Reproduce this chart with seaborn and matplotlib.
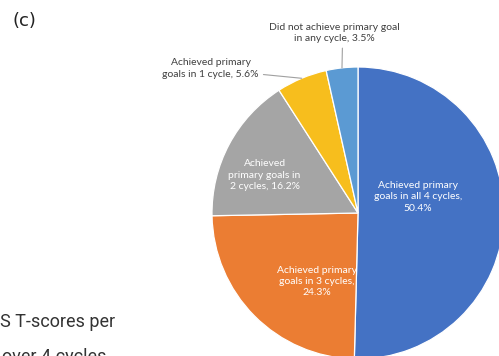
import matplotlib
matplotlib.use("Agg")
import matplotlib.pyplot as plt
import numpy as np
import seaborn as sns

# Share of participants by number of cycles in which the primary goal was achieved
categories = [
    "Achieved primary\ngoals in all 4 cycles,",
    "Achieved primary\ngoals in 3 cycles,",
    "Achieved\nprimary goals in\n2 cycles,",
    "Achieved primary\ngoals in 1 cycle,",
    "Did not achieve primary goal\nin any cycle,",
]
percentages = [50.4, 24.3, 16.2, 5.6, 3.5]
slice_colors = ["#4472C4", "#EB7D33", "#A5A5A5", "#F7BE1D", "#5B9AD3"]
# how the percentage follows each category text
pct_joiner = ["\n", "\n", " ", " ", " "]

sns.set_theme(style="white")
plt.rcParams["font.family"] = ["Lato", "DejaVu Sans"]

W, H = 499, 356
fig = plt.figure(figsize=(W / 100, H / 100), dpi=100)
fig.patch.set_facecolor("white")

# pie placed by pixel centre and radius
cx, cy, r = 358, 213, 146
ax = fig.add_axes([(cx - r) / W, (H - cy - r) / H, 2 * r / W, 2 * r / H])

wedges, _ = ax.pie(
    percentages,
    colors=slice_colors,
    startangle=90,
    counterclock=False,
    radius=1,
    wedgeprops=dict(edgecolor="white", linewidth=0.9),
)
ax.set_xlim(-1, 1)
ax.set_ylim(-1, 1)
ax.set_aspect("equal")
ax.axis("off")
for w in wedges:
    w.set_clip_on(False)

labels = [f"{c}{j}{p:.1f}%" for c, j, p in zip(categories, pct_joiner, percentages)]

# inside labels (white)
inside_pos = [(0.41, 0.11), (-0.28, -0.47), (-0.64, 0.26)]
for lab, (x, y) in zip(labels[:3], inside_pos):
    ax.text(x, y, lab, ha="center", va="center", color="white",
            fontsize=7.5, linespacing=1.3)

# outside labels with leader lines
def edge_point(w):
    ang = np.deg2rad((w.theta1 + w.theta2) / 2)
    return np.cos(ang), np.sin(ang)

out_cfg = [
    (3, (-1.01, 0.99), (1.0, 0.22)),
    (4, (-0.16, 1.23), (0.56, 0.0)),
]
for idx, (tx, ty), rel in out_cfg:
    ax.annotate(
        labels[idx], xy=edge_point(wedges[idx]), xytext=(tx, ty),
        ha="center", va="center", fontsize=7.5, color="#404040",
        linespacing=1.3, annotation_clip=False,
        arrowprops=dict(arrowstyle="-", color="#A0A0A0", lw=0.8,
                        relpos=rel, shrinkA=1, shrinkB=0),
    )

fig.text(13 / W, 1 - 21 / H, "(c)", ha="left", va="center",
         fontsize=13, color="#222222", family=["DejaVu Sans"])
fig.text(0 / W, 1 - 322 / H, "S T-scores per", ha="left",
         va="center", fontsize=13, color="#333333", family=["Roboto"])
fig.text(2 / W, 1 - 357 / H, "over 4 cycles", ha="left",
         va="center", fontsize=13, color="#333333", family=["Roboto"])

fig.savefig("out.png", dpi=100, facecolor="white")
